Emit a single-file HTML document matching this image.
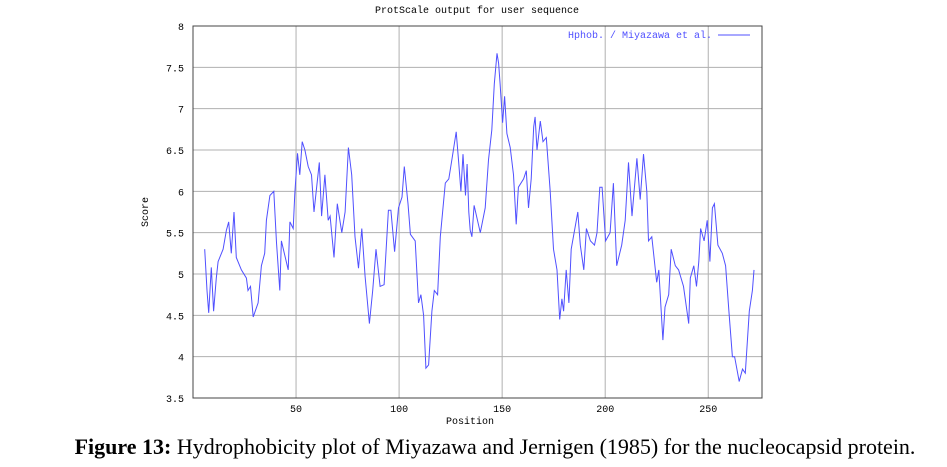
<!DOCTYPE html>
<html><head><meta charset="utf-8">
<style>
html,body{margin:0;padding:0;background:#fff;width:947px;height:467px;overflow:hidden}
svg text{font-family:"Liberation Mono",monospace}
.cap{position:absolute;left:0;top:434px;width:990px;text-align:center;font-family:"Liberation Serif",serif;font-size:22px;color:#000;white-space:nowrap}
</style></head>
<body>
<svg id="chart" width="947" height="467" style="position:absolute;left:0;top:0">
<text x="477" y="13" font-size="10" text-anchor="middle" fill="#000">ProtScale output for user sequence</text>
<g id="grid"></g>
<rect x="193" y="26" width="569" height="372" fill="none" stroke="#444" stroke-width="1"/>
<g id="ticks"></g>
<polyline id="series" fill="none" stroke="#5050ff" stroke-width="1"/>
<text x="712" y="38" font-size="10" text-anchor="end" fill="#5050ff">Hphob. / Miyazawa et al.</text>
<line x1="718" y1="35" x2="750" y2="35" stroke="#5050ff" stroke-width="1"/>
<text transform="translate(148,212) rotate(-90)" font-size="10" text-anchor="middle">Score</text>
<text x="470" y="424" font-size="10" text-anchor="middle">Position</text>
</svg>
<div class="cap"><b>Figure 13:</b> Hydrophobicity plot of Miyazawa and Jernigen (1985) for the nucleocapsid protein.</div>
<script>
const positions=[5.7,6.8,7.6,8.9,10,11.3,12.2,14.6,16.2,17.3,18.6,19.9,21,23.5,25.9,26.7,27.9,29.2,31.6,33.2,34.8,35.6,37.3,39.2,40.5,42.1,42.9,44.6,46.2,47,48.6,49.4,50.7,51.8,53,54.3,55.9,57.5,58.7,61.3,62.4,64,65.6,66.5,68.4,70,72.2,73.8,75.4,77,78.6,80.3,81.9,83.5,85.6,87.2,88.8,90.8,92.7,94.8,96,97.8,99.7,101.4,102.5,104.3,105.5,107.8,109.4,110.6,111.9,113,114.3,115.9,117.1,118.7,120,122.4,124.1,125.7,127.7,128.9,130,131,132.2,133,133.8,134.5,135.3,136.4,139.4,141.8,143.4,145,146.2,147.5,148.3,149,150.2,151.2,152.3,153.9,155.5,156.8,157.9,160.4,161.7,162.8,164.1,165.3,166,166.9,168.5,169.8,171.4,173.3,174.9,176.6,177.9,179,179.8,181.1,182.4,183.5,186.7,187.9,189.6,190.9,192.8,194.8,196,197.4,198.5,200.2,202.4,204,205.6,208,209.7,211.3,213,215.4,217,218.6,220.2,221,222.6,225,226,228,229,230.8,232,234,235.6,238,240.5,241.3,243,244.3,245.4,246.3,248,249.5,250.8,252,253,254.7,256.8,258.4,260,261.7,262.8,265,266.6,268,269.9,271.4,272.2];
const scores=[5.3,4.8,4.53,5.08,4.55,4.95,5.15,5.3,5.53,5.63,5.25,5.75,5.2,5.05,4.95,4.8,4.85,4.48,4.65,5.1,5.25,5.65,5.95,6.0,5.38,4.8,5.4,5.22,5.05,5.63,5.55,5.97,6.46,6.2,6.6,6.5,6.3,6.2,5.75,6.35,5.7,6.2,5.65,5.7,5.2,5.85,5.5,5.75,6.53,6.2,5.45,5.07,5.55,4.97,4.4,4.8,5.3,4.85,4.87,5.77,5.77,5.27,5.8,5.93,6.3,5.85,5.48,5.4,4.65,4.75,4.5,3.86,3.9,4.55,4.8,4.75,5.45,6.1,6.15,6.4,6.72,6.35,6.0,6.45,5.95,6.33,5.75,5.53,5.45,5.83,5.5,5.8,6.38,6.74,7.3,7.67,7.55,7.3,6.83,7.15,6.7,6.53,6.2,5.6,6.05,6.15,6.25,5.8,6.15,6.78,6.9,6.5,6.85,6.6,6.65,6.0,5.3,5.05,4.45,4.7,4.55,5.05,4.65,5.3,5.75,5.35,5.05,5.55,5.4,5.35,5.5,6.05,6.05,5.4,5.5,6.1,5.1,5.35,5.65,6.35,5.7,6.4,5.9,6.45,6.0,5.4,5.45,4.9,5.05,4.2,4.6,4.75,5.3,5.1,5.05,4.85,4.4,4.95,5.1,4.85,5.15,5.55,5.4,5.65,5.15,5.8,5.85,5.35,5.25,5.1,4.55,4.0,4.0,3.7,3.85,3.8,4.55,4.8,5.05];
const xTicks=[50,100,150,200,250];
const yTicks=[3.5,4,4.5,5,5.5,6,6.5,7,7.5,8];
const yLabels=["3.5","4","4.5","5","5.5","6","6.5","7","7.5","8"];
const NS="http://www.w3.org/2000/svg";
function xs(p){return 193+p*2.061;}
function ys(v){return 398-(v-3.5)*82.67;}
const grid=document.getElementById('grid'),ticks=document.getElementById('ticks');
function mk(tag,attrs,parent){const e=document.createElementNS(NS,tag);for(const k in attrs)e.setAttribute(k,attrs[k]);parent.appendChild(e);return e;}
yTicks.forEach((v,i)=>{
  const y=ys(v);
  if(v>3.5&&v<8){const g=mk('line',{x1:193,x2:762,y1:y,y2:y,stroke:'#b0b0b0','stroke-width':1},grid);
  
  }
  const t=mk('text',{x:184,y:y+4,'font-size':10,'text-anchor':'end'},ticks);
  t.textContent=yLabels[i];
  
  
});
xTicks.forEach(p=>{
  const x=xs(p);
  const g=mk('line',{x1:x,x2:x,y1:26,y2:398,stroke:'#b0b0b0','stroke-width':1},grid);
  
  
  const t=mk('text',{x:x,y:412,'font-size':10,'text-anchor':'middle'},ticks);
  t.textContent=String(p);
  
  
});
document.getElementById('series').setAttribute('points',positions.map((p,i)=>xs(p).toFixed(1)+','+ys(scores[i]).toFixed(1)).join(' '));
</script>
</body></html>
